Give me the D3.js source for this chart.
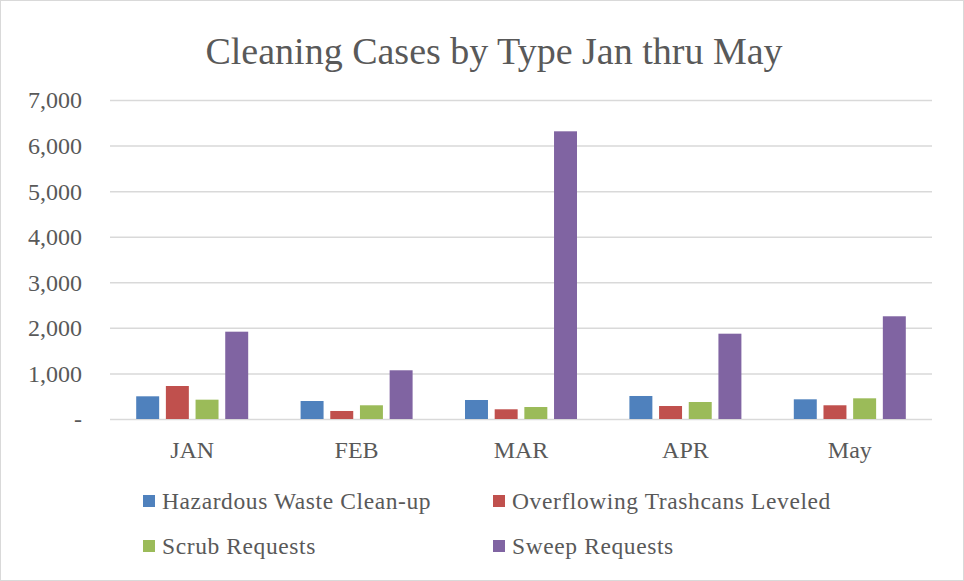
<!DOCTYPE html>
<html>
<head>
<meta charset="utf-8">
<script src="https://cdn.jsdelivr.net/npm/d3@7"></script>
<style>
  body { margin: 0; background: #ffffff; }
  svg text { font-family: "Liberation Serif", "DejaVu Serif", serif; fill: #595959; }
</style>
</head>
<body>
<svg id="chart" width="964" height="581"></svg>
<script>
// chart data
var months = ["JAN", "FEB", "MAR", "APR", "May"];
var series_names = ["Hazardous Waste Clean-up", "Overflowing Trashcans Leveled", "Scrub Requests", "Sweep Requests"];
var series_colors = ["#4f81bd", "#c0504d", "#9bbb59", "#8064a2"];
var hazardous = [498, 395, 417, 505, 432];
var overflowing = [724, 176, 213, 285, 301];
var scrub = [424, 301, 263, 373, 454];
var sweep = [1916, 1069, 6313, 1872, 2254];
var y_ticks = [0, 1000, 2000, 3000, 4000, 5000, 6000, 7000];

var all_series = [hazardous, overflowing, scrub, sweep];

var width = 964;
var height = 581;
var plot_left = 110;
var plot_right = 932;
var plot_top = 100;
var plot_bottom = 419;

var svg = d3.select("#chart");

// outer frame
svg.append("rect")
  .attr("x", 0.5).attr("y", 0.5)
  .attr("width", width - 1).attr("height", height - 1)
  .style("fill", "#ffffff")
  .style("stroke", "#d9d9d9");

// title
svg.append("text")
  .attr("x", 494)
  .attr("y", 64)
  .style("text-anchor", "middle")
  .style("font-size", "38px")
  .text("Cleaning Cases by Type Jan thru May");

// scales
var x0 = d3.scaleBand().domain(months).range([plot_left, plot_right]).padding(0);
var x1 = d3.scaleBand().domain(series_names).range([-56, 56]).paddingInner(0.226);
var y = d3.scaleLinear().domain([0, 7000]).range([plot_bottom, plot_top]);

// gridlines + y labels
var fmt = d3.format(",");
var y_axis = d3.axisLeft(y)
  .tickValues(y_ticks)
  .tickSize(-(plot_right - plot_left))
  .tickPadding(28)
  .tickFormat(function(d) { return d == 0 ? "-" : fmt(d); });

var y_g = svg.append("g")
  .attr("transform", "translate(" + plot_left + ",0)")
  .call(y_axis);
y_g.select(".domain").remove();
y_g.selectAll(".tick line")
  .style("stroke", "#d9d9d9")
  .style("stroke-width", 1.5);
y_g.selectAll(".tick text")
  .attr("dy", "0.33em")
  .style("font-size", "24px")
  .style("font-family", "'Liberation Serif', serif")
  .style("fill", "#595959");

// bars
var groups = svg.selectAll(".month-group")
  .data(months)
  .enter()
  .append("g")
  .attr("class", "month-group")
  .attr("transform", function(d) { return "translate(" + (x0(d) + x0.bandwidth() / 2) + ",0)"; });

groups.selectAll("rect")
  .data(function(d, i) {
    return series_names.map(function(s, j) { return {name: s, value: all_series[j][i], color: series_colors[j]}; });
  })
  .enter()
  .append("rect")
  .attr("x", function(d) { return x1(d.name); })
  .attr("width", x1.bandwidth())
  .attr("y", function(d) { return y(d.value); })
  .attr("height", function(d) { return y(0) - y(d.value); })
  .style("fill", function(d) { return d.color; });

// category labels
var x_axis = d3.axisBottom(x0).tickSize(0).tickPadding(22);
var x_g = svg.append("g")
  .attr("transform", "translate(0," + plot_bottom + ")")
  .call(x_axis);
x_g.select(".domain").remove();
x_g.selectAll(".tick text")
  .style("font-size", "24px")
  .style("font-family", "'Liberation Serif', serif")
  .style("fill", "#595959");

// legend
var legend_cols = [143, 493];
var legend_rows = [501, 546];
var legend = svg.selectAll(".legend-item")
  .data(series_names)
  .enter()
  .append("g")
  .attr("class", "legend-item")
  .attr("transform", function(d, i) {
    return "translate(" + legend_cols[i % 2] + "," + legend_rows[Math.floor(i / 2)] + ")";
  });

legend.append("rect")
  .attr("x", 0).attr("y", -6)
  .attr("width", 12).attr("height", 12)
  .style("fill", function(d, i) { return series_colors[i]; });

legend.append("text")
  .attr("x", 19)
  .attr("y", 8)
  .style("font-size", "23.5px")
  .style("letter-spacing", "0.6px")
  .text(function(d) { return d; });
</script>
</body>
</html>
